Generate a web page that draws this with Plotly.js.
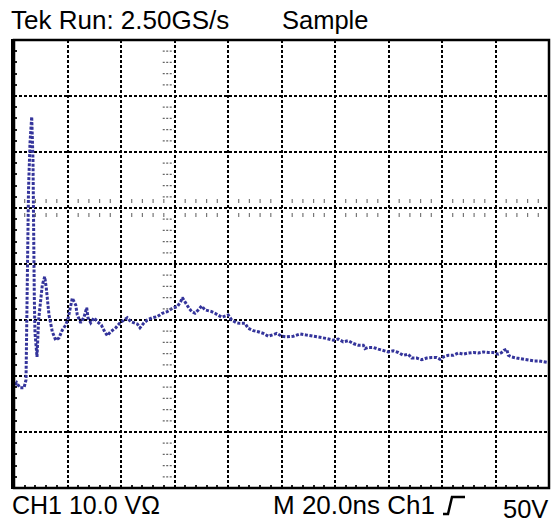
<!DOCTYPE html>
<html>
<head>
<meta charset="utf-8">
<script src="https://cdn.plot.ly/plotly-3.0.1.min.js"></script>
<style>html,body{margin:0;padding:0;background:#fff;}#chart{width:551px;height:525px;}</style>
</head>
<body>
<div id="chart"></div>
<script>
// Time (ns) and voltage (V) samples (20 ns/div, 10 V/div)
const timeNs = [0.37,1.0,2.24,3.74,4.49,4.86,5.23,5.42,5.98,6.62,7.10,7.21,7.36,7.59,7.85,8.60,9.2,9.98,10.58,11.48,12.07,13.08,14.32,15.59,16.82,18.06,19.33,20.30,21.20,21.79,23.07,23.66,24.93,26.17,27.18,27.66,28.67,29.91,31.14,32.64,33.91,34.88,36.15,38.02,39.63,41.12,42.35,43.63,44.86,46.09,47.10,48.60,49.83,51.70,53.57,55.44,57.31,59.18,61.05,62.32,62.92,64.19,65.42,66.43,67.66,68.90,70.17,71.40,72.63,73.90,75.14,76.37,77.64,78.88,80.11,81.38,83.25,84.49,86.36,87.59,89.46,91.33,93.20,95.07,96.34,98.21,100.07,101.94,104.41,106.92,109.42,111.89,114.39,116.90,119.36,121.23,123.10,124.97,126.84,128.71,130.58,131.21,132.45,134.32,136.19,138.06,139.93,141.79,143.66,145.53,147.40,148.67,150.54,152.41,154.28,156.15,158.01,159.25,160.49,162.36,164.23,166.09,167.96,169.83,171.70,173.57,175.44,177.31,179.18,181.05,182.32,183.18,184.19,184.79,186.06,187.93,190.39,192.26,194.13,196.00,197.87,199.74];
const volts = [-31.6,-31.2,-32.1,-32.1,-30.7,-17.7,-7.0,3.2,11.6,16.3,8.6,1.4,-9.3,-15.9,-22.3,-26.6,-20.0,-16.1,-13.75,-12.27,-14.29,-19.1,-22.1,-23.6,-23.2,-21.8,-20.9,-19.6,-17.3,-16.1,-17.3,-19.1,-20.5,-19.5,-17.8,-19.6,-20.5,-19.6,-20.3,-20.9,-22.1,-22.8,-22.1,-21.4,-20.5,-20.0,-19.6,-20.3,-20.5,-20.7,-21.4,-20.5,-20.0,-19.6,-19.4,-18.8,-18.5,-17.9,-17.6,-16.7,-16.0,-17.0,-17.9,-18.5,-18.8,-18.2,-17.5,-18.2,-18.3,-18.5,-18.8,-19.1,-19.5,-19.3,-19.1,-20.0,-20.5,-20.6,-20.6,-21.5,-21.9,-22.1,-22.4,-22.9,-22.7,-22.4,-22.9,-23.0,-22.9,-22.5,-22.7,-22.9,-23.0,-23.3,-23.6,-23.4,-23.9,-23.7,-24.2,-24.5,-24.5,-25.1,-24.9,-24.9,-25.2,-25.4,-25.7,-25.5,-25.8,-26.3,-26.1,-26.8,-26.8,-27.1,-26.8,-26.7,-26.7,-27.0,-26.6,-26.3,-26.3,-25.9,-26.1,-25.9,-25.8,-25.9,-25.7,-25.8,-25.8,-26.1,-25.8,-25.4,-25.2,-26.3,-26.6,-26.8,-27.0,-27.1,-27.3,-27.3,-27.4,-27.6];

const headerLeft = "Tek Run: 2.50GS/s";
const headerRight = "Sample";
const footerCh = "CH1 10.0 V\u03A9";
const footerTime = "M 20.0ns Ch1";
const footerTrig = "50V";

const W = 551, H = 525, L = 14, R = 549, T = 40, B = 488;
const px = x => (x - L) / (R - L);
const py = y => (B - y) / (B - T);

const font = {family: "Liberation Sans, Arial, sans-serif", size: 25.5, color: "#000"};

const shapes = [];
// center crosshair minor ticks (horizontal line at 0 V)
for (let t = 0; t <= 200; t += 4) {
  if (t % 20 === 0) continue;
  shapes.push({type:'line', xref:'x', yref:'y', x0:t, x1:t, y0:0.9, y1:1.6, line:{color:'#777', width:1.2}});
  shapes.push({type:'line', xref:'x', yref:'y', x0:t, x1:t, y0:-0.9, y1:-1.6, line:{color:'#777', width:1.2}});
}
// vertical line at 60 ns: ticks on left side
for (let v = -50; v <= 30; v += 2) {
  if (v % 10 === 0) continue;
  shapes.push({type:'line', xref:'x', yref:'y', x0:55.6, x1:59.6, y0:v, y1:v, line:{color:'#666', width:1.2, dash:'2px,1.5px'}});
}
// frame
shapes.push({type:'rect', xref:'paper', yref:'paper', x0:0, x1:1, y0:0, y1:1, line:{color:'#000', width:2.5}});
shapes.push({type:'line', xref:'paper', yref:'paper', x0:px(13), x1:px(13), y0:py(489), y1:py(39), line:{color:'#000', width:4}});
// trigger edge glyph
shapes.push({type:'path', xref:'paper', yref:'paper',
  path:`M ${px(443)} ${py(514)} L ${px(448)} ${py(514)} L ${px(452)} ${py(497)} L ${px(465)} ${py(497)}`,
  line:{color:'#000', width:2.5}});

const annotations = [
  {text: headerLeft, x: px(10), y: py(20.5), xanchor:'left', yanchor:'middle', font: Object.assign({}, font, {size: 26})},
  {text: headerRight, x: px(281), y: py(20.5), xanchor:'left', yanchor:'middle'},
  {text: footerCh, x: px(11), y: py(505), xanchor:'left', yanchor:'middle', font: Object.assign({}, font, {size: 25})},
  {text: footerTime, x: px(272), y: py(504.5), xanchor:'left', yanchor:'middle', font: Object.assign({}, font, {size: 26})},
  {text: footerTrig, x: px(502), y: py(509), xanchor:'left', yanchor:'middle'}
].map(a => Object.assign({xref:'paper', yref:'paper', showarrow:false, font: font, borderpad:0}, a));

const gridAxis = (range, dtick, minorDtick) => ({
  range: range, tick0: 0, dtick: dtick, showgrid: true, gridcolor: '#000', gridwidth: 2,
  griddash: '3px,2px', zeroline: false, showticklabels: false, ticks: '', showline: false,
  fixedrange: true,
  minor: {dtick: minorDtick, tick0: 0, ticks: 'inside', ticklen: 3, tickwidth: 2, tickcolor: '#222', showgrid: false}
});

const trace = {
  x: timeNs, y: volts, type: 'scatter', mode: 'lines',
  line: {color: '#34349b', width: 3, dash: '3px,1.6px'},
  hoverinfo: 'skip'
};

const layout = {
  width: W, height: H,
  margin: {l: L, r: W - R, t: T, b: H - B, pad: 0},
  paper_bgcolor: '#fff', plot_bgcolor: '#fff', showlegend: false,
  xaxis: gridAxis([0, 200], 20, 4),
  yaxis: gridAxis([-50, 30], 10, 2),
  shapes: shapes, annotations: annotations
};

Plotly.newPlot('chart', [trace], layout, {staticPlot: true, displayModeBar: false});
</script>
</body>
</html>
